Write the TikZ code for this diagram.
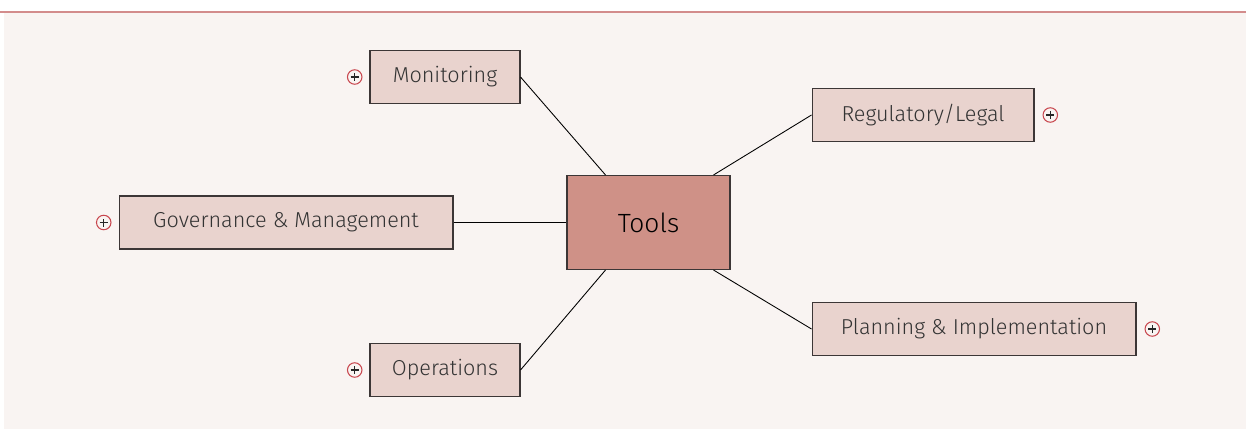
\documentclass[tikz,border=0pt]{standalone}
\usepackage{fontspec}
\setmainfont{Fira Sans Light}
\usetikzlibrary{positioning}

\definecolor{canvas}{HTML}{F9F4F2}
\definecolor{topicfill}{HTML}{E9D3CE}
\definecolor{rootfill}{HTML}{CF9187}
\definecolor{edgeline}{HTML}{3C3636}
\definecolor{accent}{HTML}{D38C8C}
\definecolor{plusred}{HTML}{C8464E}

\begin{document}
\begin{tikzpicture}[
    x=0.02cm, y=-0.02cm,
    topic/.style={draw=edgeline, fill=topicfill, line width=0.6pt, minimum height=1.06cm, inner sep=0pt, font=\fontsize{12.3}{15}\selectfont, text=black!80},
    root/.style={draw=edgeline, fill=rootfill, line width=0.6pt, minimum width=3.26cm, minimum height=1.88cm, font=\fontsize{15}{18}\selectfont, text=black},
    expander/.style={circle, draw=plusred, fill=canvas, line width=0.6pt, minimum size=0.29cm, inner sep=0pt,
        path picture={\draw[black!85, line width=0.6pt] ([xshift=-0.08cm]path picture bounding box.center) -- ([xshift=0.08cm]path picture bounding box.center);
            \draw[black!85, line width=0.6pt] ([yshift=-0.08cm]path picture bounding box.center) -- ([yshift=0.08cm]path picture bounding box.center);}},
    branch/.style={black, line width=0.5pt}
]

% canvas and top rule
\useasboundingbox (0,0) rectangle (1246,429);
\fill[canvas] (4,12) rectangle (1246,429);
\draw[accent, line width=1pt] (0,12) -- (1246,12);

% central topic
\node[root] (tools) at (648.5,222.5) {Tools};

% subtopics
\node[topic, minimum width=3.0cm] (monitoring) at (445,77) {Monitoring};
\node[topic, minimum width=4.44cm] (regulatory) at (923,115) {Regulatory/Legal};
\node[topic, minimum width=6.68cm] (governance) at (286,222.5) {Governance \& Management};
\node[topic, minimum width=3.0cm] (operations) at (445,370) {Operations};
\node[topic, minimum width=6.48cm] (planning) at (974,329) {Planning \& Implementation};

% expand markers
\node[expander, left=0.14cm of monitoring] (monplus) {};
\node[expander, right=0.16cm of regulatory] (regplus) {};
\node[expander, left=0.14cm of governance] (govplus) {};
\node[expander, left=0.14cm of operations] (opsplus) {};
\node[expander, right=0.16cm of planning] (planplus) {};

% branches
\draw[branch] (monitoring.east) -- ([xshift=-0.86cm]tools.north);
\draw[branch] (regulatory.west) -- ([xshift=1.3cm]tools.north);
\draw[branch] (governance.east) -- (tools.west);
\draw[branch] (operations.east) -- ([xshift=-0.86cm]tools.south);
\draw[branch] (planning.west) -- ([xshift=1.3cm]tools.south);

\end{tikzpicture}
\end{document}
